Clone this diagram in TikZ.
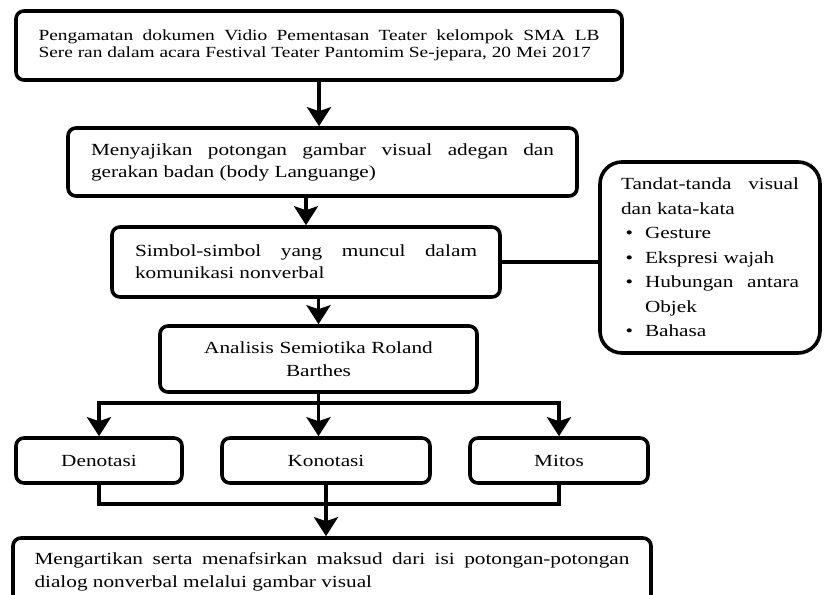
\documentclass[tikz,border=0pt]{standalone}
\usepackage{fontspec}
\setmainfont{Liberation Serif}[FakeStretch=1.25]
\usetikzlibrary{arrows.meta, calc}
\hyphenpenalty=10000
\exhyphenpenalty=10000
\tolerance=10000
\hbadness=10000
\newcommand{\signitems}{%
  \begin{list}{\textbullet}{\setlength{\leftmargin}{24pt}%
    \setlength{\labelwidth}{12pt}\setlength{\labelsep}{12pt}%
    \setlength{\topsep}{0pt}\setlength{\partopsep}{0pt}%
    \setlength{\itemsep}{0pt}\setlength{\parsep}{0pt}}}

\begin{document}
\begin{tikzpicture}[x=1pt, y=-1pt,
    box/.style={draw, line width=3.6pt, rounded corners=8pt, align=justify,
      inner xsep=0pt, inner ysep=0pt, font=\fontsize{17}{22}\selectfont},
    arr/.style={line width=3.6pt, -{Stealth[length=19pt, width=24pt, inset=4pt]}},
    link/.style={line width=3.6pt}]
  \fill[white] (0,0) rectangle (824,594);
  \useasboundingbox (0,0) rectangle (824,594);
  % main column
  \node[box, minimum width=606, minimum height=69, text width=561,
        font=\fontsize{15.5}{17}\selectfont] (b1) at (319,45.5)
    {Pengamatan dokumen Vidio Pementasan Teater kelompok SMA LB\linebreak Sere ran dalam acara Festival Teater Pantomim Se-jepara, 20 Mei 2017};
  \node[box, minimum width=509, minimum height=68, text width=463] (b2) at (322.5,162)
    {Menyajikan potongan gambar visual adegan dan gerakan badan (body Languange)};
  \node[box, minimum width=388, minimum height=70, text width=342] (b3) at (306,262)
    {Simbol-simbol yang muncul dalam komunikasi nonverbal};
  \node[box, minimum width=317, minimum height=66, text width=260, align=center,
        font=\fontsize{17}{23}\selectfont] (b4) at (318.5,359)
    {Analisis Semiotika Roland\\Barthes};
  % signs box on the right
  \node[box, rounded corners=22pt, minimum width=220, minimum height=191, text width=178,
        font=\fontsize{17}{24.5}\selectfont] (signs) at (710,257.5)
    {Tandat-tanda visual dan kata-kata
     \signitems
     \item Gesture
     \item Ekspresi wajah
     \item Hubungan antara Objek
     \item Bahasa
     \end{list}};
  % three readings
  \node[box, minimum width=166, minimum height=45, align=center] (den) at (99,460.5) {Denotasi};
  \node[box, minimum width=208, minimum height=45, align=center] (kon) at (326,460.5) {Konotasi};
  \node[box, minimum width=178, minimum height=45, align=center] (mit) at (559,460.5) {Mitos};
  \node[box, minimum width=638, minimum height=67, text width=595,
        font=\fontsize{17}{23}\selectfont] (fin) at (332,571.5)
    {Mengartikan serta menafsirkan maksud dari isi potongan-potongan dialog nonverbal melalui gambar visual};
  \coordinate (split) at (b4.south |- 0,403);
  \coordinate (merge) at (kon.south |- 0,504);
  % connectors
  \draw[arr] (b1.south) -- (b1.south |- b2.north);
  \draw[arr] (b2.south -| b3.north) -- (b3.north);
  \draw[arr] (b3.south -| b4.north) -- (b4.north);
  \draw[link] (b3.east) -- (b3.east -| signs.west);
  \draw[arr] (b4.south) -- (b4.south |- kon.north);
  \draw[arr] (split) -| (den.north);
  \draw[arr] (split) -| (mit.north);
  \draw[link] (den.south) |- (merge) -| (mit.south);
  \draw[arr] (kon.south) -- (kon.south |- fin.north);
\end{tikzpicture}
\end{document}
